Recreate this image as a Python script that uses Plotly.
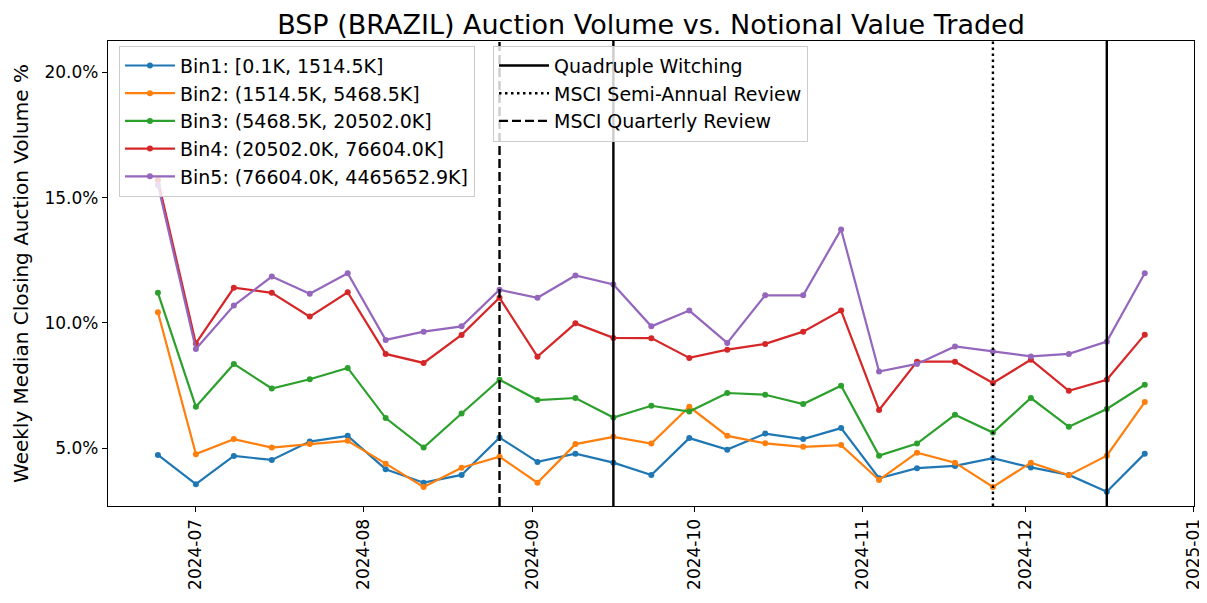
import plotly.graph_objects as go

# Weekly buckets (week start dates)
WEEKS = [
    "2024-06-24", "2024-07-01", "2024-07-08", "2024-07-15", "2024-07-22", "2024-07-29",
    "2024-08-05", "2024-08-12", "2024-08-19", "2024-08-26", "2024-09-02", "2024-09-09",
    "2024-09-16", "2024-09-23", "2024-09-30", "2024-10-07", "2024-10-14", "2024-10-21",
    "2024-10-28", "2024-11-04", "2024-11-11", "2024-11-18", "2024-11-25", "2024-12-02",
    "2024-12-09", "2024-12-16", "2024-12-23",
]

BIN_LABELS = [
    "Bin1: [0.1K, 1514.5K]",
    "Bin2: (1514.5K, 5468.5K]",
    "Bin3: (5468.5K, 20502.0K]",
    "Bin4: (20502.0K, 76604.0K]",
    "Bin5: (76604.0K, 4465652.9K]",
]

# weekly median closing auction volume, %
BIN1 = [4.73, 3.56, 4.69, 4.53, 5.26, 5.49, 4.16, 3.62, 3.93, 5.42, 4.45, 4.78, 4.42, 3.93,
        5.40, 4.94, 5.58, 5.36, 5.80, 3.80, 4.20, 4.29, 4.60, 4.23, 3.93, 3.26, 4.78]
BIN2 = [10.42, 4.76, 5.36, 5.02, 5.16, 5.29, 4.38, 3.45, 4.22, 4.66, 3.62, 5.16, 5.45, 5.18,
        6.65, 5.49, 5.19, 5.05, 5.12, 3.73, 4.82, 4.42, 3.45, 4.42, 3.92, 4.70, 6.84]
BIN3 = [11.20, 6.65, 8.36, 7.38, 7.75, 8.20, 6.20, 5.02, 6.38, 7.73, 6.92, 7.00, 6.22, 6.69,
        6.46, 7.20, 7.13, 6.76, 7.49, 4.70, 5.18, 6.33, 5.62, 7.00, 5.85, 6.56, 7.53]
BIN4 = [15.70, 9.18, 11.40, 11.20, 10.25, 11.22, 8.76, 8.40, 9.52, 11.00, 8.65, 9.98, 9.40, 9.39,
        8.60, 8.93, 9.16, 9.65, 10.49, 6.52, 8.45, 8.45, 7.60, 8.53, 7.29, 7.73, 9.53]
BIN5 = [15.50, 8.96, 10.69, 11.85, 11.16, 11.98, 9.32, 9.65, 9.86, 11.32, 11.00, 11.89, 11.53, 9.86,
        10.49, 9.20, 11.10, 11.10, 13.73, 8.06, 8.36, 9.06, 8.86, 8.66, 8.76, 9.25, 11.98]

# event dates (vertical markers)
QUAD_WITCHING = ["2024-09-16", "2024-12-16"]
MSCI_SEMI_ANNUAL = ["2024-11-25"]
MSCI_QUARTERLY = ["2024-08-26"]

Y_TICKS = [5, 10, 15, 20]
Y_TICK_LABELS = ["5.0%", "10.0%", "15.0%", "20.0%"]

COLORS = ["#1f77b4", "#ff7f0e", "#2ca02c", "#d62728", "#9467bd"]
Y_RANGE = [2.69, 21.25]
X_RANGE = ["2024-06-14 19:00", "2025-01-01 02:00"]
FONT = "DejaVu Sans"

fig = go.Figure()

for label, values, color in zip(BIN_LABELS, [BIN1, BIN2, BIN3, BIN4, BIN5], COLORS):
    fig.add_trace(go.Scatter(
        x=WEEKS, y=values, mode="lines+markers", name=label,
        line=dict(color=color, width=2.2),
        marker=dict(color=color, size=6),
        legend="legend",
    ))


def vline_trace(dates, name, dash):
    xs, ys = [], []
    for d in dates:
        xs += [d, d, None]
        ys += [Y_RANGE[0], Y_RANGE[1], None]
    return go.Scatter(
        x=xs, y=ys, mode="lines", name=name,
        line=dict(color="black", width=2.4, dash=dash),
        legend="legend2", hoverinfo="skip",
    )


fig.add_trace(vline_trace(QUAD_WITCHING, "Quadruple Witching", "solid"))
fig.add_trace(vline_trace(MSCI_SEMI_ANNUAL, "MSCI Semi-Annual Review", "2.5px,3.5px"))
fig.add_trace(vline_trace(MSCI_QUARTERLY, "MSCI Quarterly Review", "9px,4px"))

axis_common = dict(
    showgrid=False, zeroline=False, automargin=False,
    showline=True, linecolor="black", linewidth=1.2, mirror=True,
    ticks="outside", ticklen=5, tickwidth=1.2, tickcolor="black",
    tickfont=dict(family=FONT, size=17, color="black"),
)

legend_common = dict(
    y=0.99, xanchor="left", yanchor="top",
    bgcolor="rgba(255,255,255,0.8)", bordercolor="#cccccc", borderwidth=1,
    font=dict(family=FONT, size=19, color="black"),
    itemwidth=50,
)

# the page body adds an 8px offset, so the figure is sized to fit the window
fig.update_layout(
    width=1199, height=595,
    paper_bgcolor="white", plot_bgcolor="white",
    margin=dict(l=100, r=13, t=33, b=97, autoexpand=False),
    title=dict(
        text="BSP (BRAZIL) Auction Volume vs. Notional Value Traded",
        font=dict(family=FONT, size=27, color="black"),
        x=0.5, xref="paper", xanchor="center",
        y=0.972, yref="container", yanchor="middle",
    ),
    xaxis=dict(
        **axis_common,
        type="date", range=X_RANGE,
        tick0="2024-07-01", dtick="M1", tickformat="%Y-%m", tickangle=-90,
    ),
    yaxis=dict(
        **axis_common,
        range=Y_RANGE, tickvals=Y_TICKS, ticktext=Y_TICK_LABELS,
        title=dict(text="Weekly Median Closing Auction Volume %",
                   font=dict(family=FONT, size=20, color="black"), standoff=10),
    ),
    legend=dict(x=0.0101, **legend_common),
    legend2=dict(x=0.3545, **legend_common),
    showlegend=True,
)

fig.write_html("out.html")
